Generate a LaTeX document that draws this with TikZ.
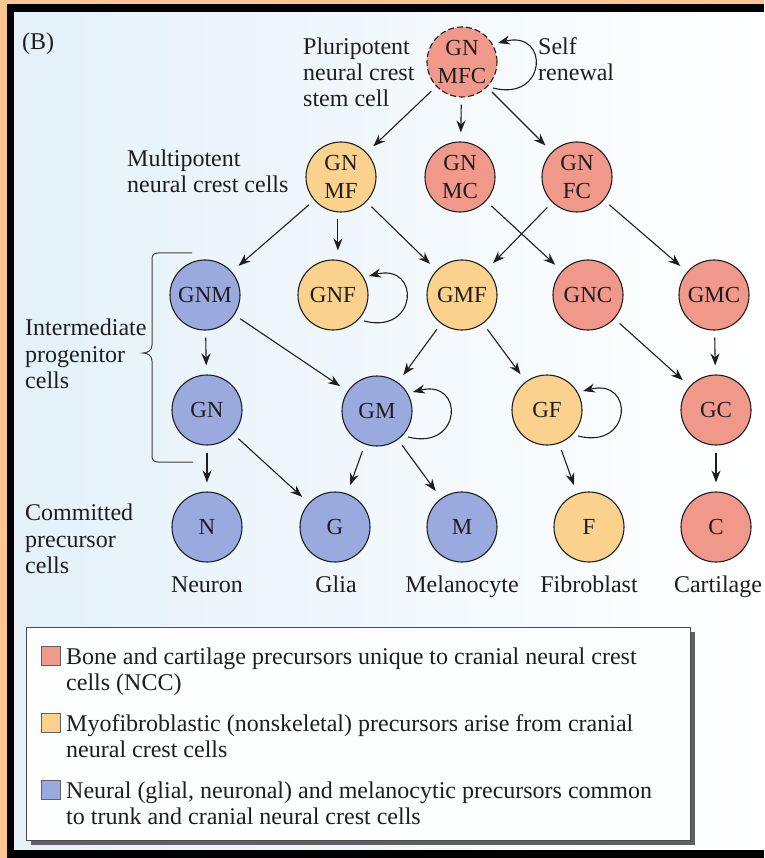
\documentclass[tikz,border=0pt]{standalone}
\usepackage{fontspec}
\setmainfont{Liberation Serif}
\usetikzlibrary{arrows.meta,calc}
\definecolor{cred}{RGB}{240,152,138}
\definecolor{cyel}{RGB}{250,210,142}
\definecolor{cblue}{RGB}{154,170,222}
\definecolor{bgblue}{RGB}{228,241,249}
\definecolor{frameor}{RGB}{252,198,148}
\definecolor{ink}{RGB}{30,30,30}
\newcommand{\selfloop}[1]{\draw[loopar] ([shift={(31,26)}]#1.center) .. controls ([shift={(85,40)}]#1.center) and ([shift={(88,-32)}]#1.center) .. ([shift={(36,-19)}]#1.center);}
\begin{document}
\begin{tikzpicture}[x=1pt,y=-1pt,
  cell/.style={circle, draw=ink, line width=1.1pt, minimum size=70pt, inner sep=0pt,
    font=\fontsize{23}{28}\selectfont, text=ink, align=center},
  rcell/.style={cell, fill=cred},
  ycell/.style={cell, fill=cyel},
  bcell/.style={cell, fill=cblue},
  arr/.style={-{Stealth[length=12pt,width=9pt]}, line width=1.1pt, draw=ink,
    shorten <=7pt, shorten >=9pt},
  loopar/.style={arr, shorten <=0pt, shorten >=0pt},
  lbl/.style={font=\fontsize{24}{27}\selectfont, text=ink, inner sep=0pt},
  leg/.style={font=\fontsize{24}{27}\selectfont, text=ink, inner sep=0pt, anchor=base west},
  sq/.style={draw=ink!70, line width=0.8pt}
]
\useasboundingbox (0,0) rectangle (764,858);
% frame and background
\fill[frameor] (0,0) rectangle (764,858);
\shade[left color=bgblue, right color=white] (14,12) rectangle (764,850);
\fill[black] (7,4) rectangle (764,12);
\fill[black] (7,4) rectangle (14,858);
\fill[black] (7,850) rectangle (764,858);

% nodes
\node[rcell, dashed, dash pattern=on 6pt off 3pt] (MFC) at (462,62) {GN\\MFC};
\node[ycell] (GNMF) at (341,177) {GN\\MF};
\node[rcell] (GNMC) at (460,177) {GN\\MC};
\node[rcell] (GNFC) at (577,177) {GN\\FC};
\node[bcell] (GNM) at (205,295) {GNM};
\node[ycell] (GNF) at (333,295) {GNF};
\node[ycell] (GMF) at (462,295) {GMF};
\node[rcell] (GNC) at (588,295) {GNC};
\node[rcell] (GMC) at (714,295) {GMC};
\node[bcell] (GN) at (207,410) {GN};
\node[bcell] (GM) at (377,411) {GM};
\node[ycell] (GF) at (547,410) {GF};
\node[rcell] (GC) at (716,410) {GC};
\node[bcell] (N) at (207,527) {N};
\node[bcell] (G) at (335,527) {G};
\node[bcell] (M) at (462,527) {M};
\node[ycell] (F) at (589,527) {F};
\node[rcell] (C) at (716,527) {C};

% arrows
\draw[arr] (MFC) -- (GNMF);
\draw[arr] (MFC) -- (GNMC);
\draw[arr] (MFC) -- (GNFC);
\draw[arr] (GNMF) -- (GNM);
\draw[arr] (GNMF.-95) -- (GNMF.-95 |- GNF.north);
\draw[arr] (GNMF) -- (GMF);
\draw[arr] (GNMC) -- (GNC);
\draw[arr] (GNFC) -- (GMF);
\draw[arr] (GNFC) -- (GMC);
\draw[arr] (GNM) -- (GN);
\draw[arr] (GNM) -- (GM);
\draw[arr] (GMF) -- (GM);
\draw[arr] (GMF) -- (GF);
\draw[arr] (GNC) -- (GC);
\draw[arr] (GMC) -- (GC);
\draw[arr] (GN) -- (N);
\draw[arr] (GN) -- (G);
\draw[arr] (GM) -- (G);
\draw[arr] (GM) -- (M);
\draw[arr] (GF) -- (F);
\draw[arr] (GC) -- (C);
\selfloop{MFC}
\selfloop{GNF}
\selfloop{GM}
\selfloop{GF}

% brace
\draw[ink!85, line width=1pt] (192,253) -- (158,253) .. controls (154,253) and (152,255) .. (152,259) -- (152,345)
  .. controls (152,350) and (148,353) .. (143,353) .. controls (148,353) and (152,356) .. (152,361) -- (152,456)
  .. controls (152,460) and (154,462) .. (158,462) -- (193,462);

% labels
\node[lbl, anchor=base west] (tB) at (22,50) {(B)};
\node[lbl, anchor=base west] (tP1) at (303,55) {Pluripotent};
\node[lbl, anchor=base west] (tP2) at (303,81) {neural crest};
\node[lbl, anchor=base west] (tP3) at (303,107) {stem cell};
\node[lbl, anchor=base west] (tS1) at (538,55) {Self};
\node[lbl, anchor=base west] (tS2) at (538,81) {renewal};
\node[lbl, anchor=base west] (tM1) at (127,167) {Multipotent};
\node[lbl, anchor=base west] (tM2) at (127,193) {neural crest cells};
\node[lbl, anchor=base west] (tI1) at (25,335) {Intermediate};
\node[lbl, anchor=base west] (tI2) at (25,362) {progenitor};
\node[lbl, anchor=base west] (tI3) at (25,388) {cells};
\node[lbl, anchor=base west] (tC1) at (25,520) {Committed};
\node[lbl, anchor=base west] (tC2) at (25,547) {precursor};
\node[lbl, anchor=base west] (tC3) at (25,573) {cells};
\node[lbl, anchor=base] (lN) at (207,592) {Neuron};
\node[lbl, anchor=base] (lG) at (336,592) {Glia};
\node[lbl, anchor=base] (lM) at (462,592) {Melanocyte};
\node[lbl, anchor=base] (lF) at (589,592) {Fibroblast};
\node[lbl, anchor=base] (lC) at (718,592) {Cartilage};

% legend
\fill[gray!75!black] (31,632) rectangle (695,845);
\fill[white!92!bgblue] (26,627) rectangle (690,840);
\draw[ink!80, line width=1pt] (26,627) rectangle (690,840);
\draw[sq, fill=cred] (41,646) rectangle (60,665);
\draw[sq, fill=cyel] (41,713) rectangle (60,732);
\draw[sq, fill=cblue] (41,780) rectangle (60,799);
\node[leg] (L1a) at (66,664) {Bone and cartilage precursors unique to cranial neural crest};
\node[leg] (L1b) at (66,690) {cells (NCC)};
\node[leg] (L2a) at (66,731) {Myofibroblastic (nonskeletal) precursors arise from cranial};
\node[leg] (L2b) at (66,757) {neural crest cells};
\node[leg] (L3a) at (66,798) {Neural (glial, neuronal) and melanocytic precursors common};
\node[leg] (L3b) at (66,824) {to trunk and cranial neural crest cells};
\end{tikzpicture}
\end{document}
